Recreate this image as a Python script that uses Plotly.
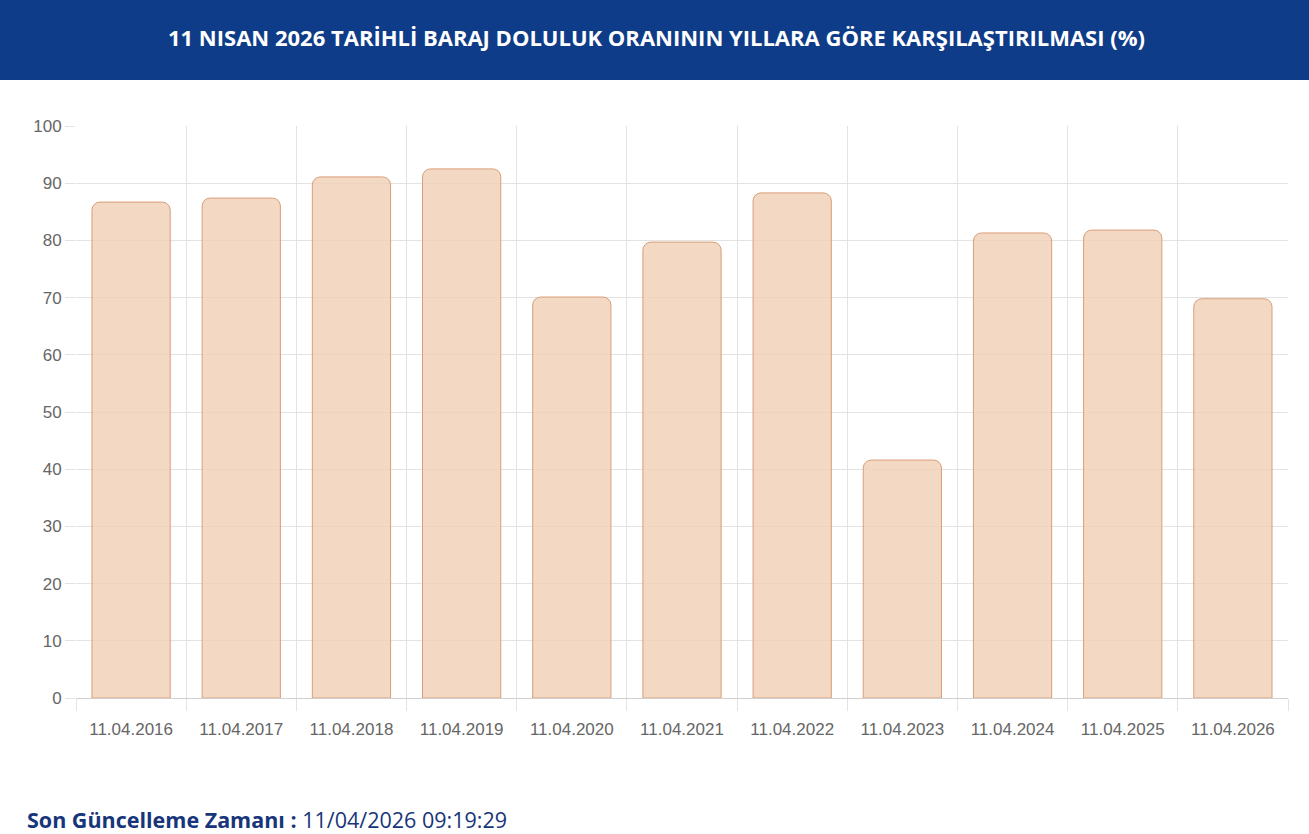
import plotly.graph_objects as go

dates = ['11.04.2016', '11.04.2017', '11.04.2018', '11.04.2019', '11.04.2020', '11.04.2021',
         '11.04.2022', '11.04.2023', '11.04.2024', '11.04.2025', '11.04.2026']
doluluk = [86.7, 87.4, 91.1, 92.5, 70.1, 79.7, 88.3, 41.6, 81.3, 81.8, 69.8]
y_ticks = [0, 10, 20, 30, 40, 50, 60, 70, 80, 90, 100]

title_text = '11 NISAN 2026 TARİHLİ BARAJ DOLULUK ORANININ YILLARA GÖRE KARŞILAŞTIRILMASI (%)'
update_label = 'Son Güncelleme Zamanı :'
update_time = '11/04/2026 09:19:29'

# plot area in pixels: x 76..1288, y 126..698
plot_h = 572
plot_w = 1212

fig = go.Figure()
fig.add_trace(go.Bar(
    x=dates, y=doluluk, width=0.71,
    marker=dict(color='rgba(240,206,180,0.8)', line=dict(color='#d99e78', width=1)),
    hoverinfo='x+y', showlegend=False,
))
# invisible trace on the numeric axis used only for the category-boundary grid
fig.add_trace(go.Scatter(x=[-0.5, 10.5], y=[0, 0], xaxis='x2', mode='lines',
                         line=dict(width=0), hoverinfo='skip', showlegend=False))

fig.update_layout(
    width=1309, height=834,
    margin=dict(l=76, r=21, t=126, b=136),
    paper_bgcolor='white', plot_bgcolor='white',
    font=dict(family='Liberation Sans, Arial', size=17, color='#666666'),
    barcornerradius=8,
    xaxis=dict(type='category', showgrid=False, ticks='', showline=True,
               linecolor='#d0d0d0', linewidth=1, tickfont=dict(size=17, color='#666666'),
               ticklabelstandoff=16, range=[-0.5, 10.5], fixedrange=True),
    xaxis2=dict(overlaying='x', range=[-0.5, 10.5], tickvals=[i - 0.5 for i in range(12)],
                showticklabels=False, showgrid=True, gridcolor='#e3e3e3', gridwidth=1,
                ticks='outside', ticklen=12, tickcolor='#e3e3e3', zeroline=False,
                side='bottom', anchor='y'),
    yaxis=dict(range=[0, 100], tickvals=y_ticks, showgrid=True, gridcolor='#e3e3e3',
               zeroline=False, ticks='outside', ticklen=10, tickcolor='#e3e3e3',
               tickfont=dict(size=17, color='#666666'), showline=False),
    shapes=[dict(type='rect', xref='paper', yref='paper', x0=-0.1, x1=1.1,
                 y0=(698 - 80) / plot_h, y1=2,
                 fillcolor='#0f3c88', line=dict(width=0), layer='below')],
    annotations=[
        dict(text='<b>' + title_text + '</b>', xref='paper', yref='paper',
             x=(656 - 76) / plot_w, y=(698 - 37) / plot_h, xanchor='center', yanchor='middle',
             showarrow=False, font=dict(family='Open Sans', size=22, color='white')),
        dict(text='<b>' + update_label + '</b> ' + update_time, xref='paper', yref='paper',
             x=(25 - 76) / plot_w, y=-(819 - 698) / plot_h, xanchor='left', yanchor='middle',
             showarrow=False, font=dict(family='Open Sans', size=21.5, color='#17357a')),
    ],
)

fig.write_html('out.html', config={'displayModeBar': False},
               post_script="document.body.style.margin='0';")
